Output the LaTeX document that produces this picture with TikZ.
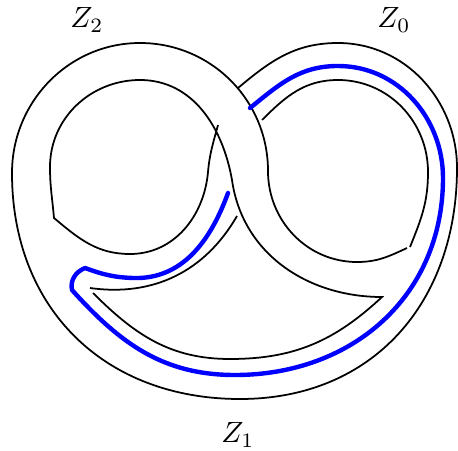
\documentclass[tikz,border=0pt]{standalone}
\usepackage{amsmath}
\usepackage{tikz}
\usetikzlibrary{
	calc,
	positioning
}

\tikzset{
	bdry/.style={line width=0.6pt},
	bluecurve/.style={blue, line width=1.5pt, line cap=round, line join=round}
}

\begin{document}
\begin{tikzpicture}[x=0.012cm,y=-0.012cm]
	\useasboundingbox (0,0) rectangle (458,451);
	% 外边界
	\draw[bdry] (238,88) to[out=40, in=180] (338,43) to[out=0, in=90] (457,168)
		to[out=-90, in=0, looseness=1.08] (240,399)
		to[out=180, in=-90, looseness=1.08] (12,173)
		to[out=90, in=180] (140,43) to[out=0, in=90] (268,171)
		to[out=-90, in=180] (357,262) to[out=0, in=-155] (407,248);
	% 右环内边界
	\draw[bdry] (410,247) to[out=68, in=-90] (428,172) to[out=90, in=0] (338,80)
		to[out=180, in=45] (262,120);
	% 左环内边界
	\draw[bdry] (218,125) to[out=-105, in=85] (208,172) to[out=-95, in=0] (130,254)
		to[out=180, in=-40] (54,218)
		to[out=95, in=-90] (50,167) to[out=90, in=180] (140,80)
		to[out=0, in=100] (232,180) to[out=-82, in=180] (382,297)
		to[out=-137, in=0] (230,359) to[out=180, in=-45] (93,293);
	\draw[bdry] (90,288) to[out=-8, in=-120] (237,216);
	% 蓝色曲线
	\draw[bluecurve] (228,193) to[out=-110, in=-2] (133,278) to[out=178, in=-20] (85,268)
		.. controls (75,272) and (70,281) .. (72,290)
		to[out=-48, in=180] (235,375) to[out=0, in=-90, looseness=1.05] (443,178)
		to[out=90, in=0] (338,66) to[out=180, in=39] (250,108);
	% 标签
	\node (z2) at (87,20) {$Z_2$};
	\node (z0) at (394,20) {$Z_0$};
	\node (z1) at (238,435) {$Z_1$};
\end{tikzpicture}
\end{document}
